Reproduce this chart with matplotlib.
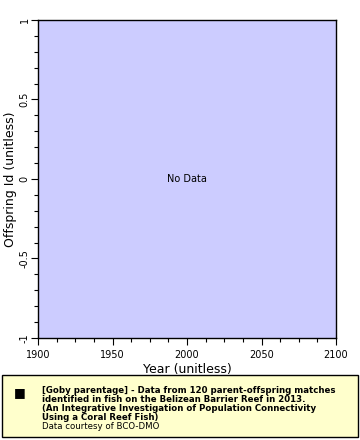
import numpy as np
import matplotlib.pyplot as plt
from matplotlib.patches import Rectangle
from matplotlib.ticker import MultipleLocator

# no data in this chart, only the empty axes
x_range = [1900, 2100]
y_range = [-1, 1]
x_ticks = [1900, 1950, 2000, 2050, 2100]
y_ticks = [-1, -0.5, 0, 0.5, 1]
y_tick_labels = ["-1", "-0.5", "0", "0.5", "1"]

legend_lines = [
    "[Goby parentage] - Data from 120 parent-offspring matches",
    "identified in fish on the Belizean Barrier Reef in 2013.",
    "(An Integrative Investigation of Population Connectivity",
    "Using a Coral Reef Fish)",
]
courtesy = "Data courtesy of BCO-DMO"

fig = plt.figure(figsize=(3.6, 4.4), dpi=100)
ax = fig.add_axes([38 / 360, 1 - 338 / 440, 298 / 360, 318 / 440])
ax.set_facecolor("#ccccff")
ax.set_xlim(x_range)
ax.set_ylim(y_range)
ax.set_xticks(x_ticks)
ax.set_yticks(y_ticks)
ax.set_yticklabels(y_tick_labels, rotation=90, va="center")
ax.xaxis.set_minor_locator(MultipleLocator(12.5))
ax.yaxis.set_minor_locator(MultipleLocator(0.1))
ax.tick_params(which="major", length=5, width=0.8, labelsize=7, direction="out")
ax.tick_params(which="minor", length=3, width=0.8, direction="out")
ax.tick_params(axis="y", pad=1)
for s in ax.spines.values():
    s.set_linewidth(1)
ax.set_xlabel("Year (unitless)", fontsize=9, labelpad=2)
ax.set_ylabel("Offspring Id (unitless)", fontsize=9, labelpad=2)
ax.text(0.5, 0.5, "No Data", transform=ax.transAxes, ha="center", va="center", fontsize=7)

# legend box at the bottom
box = Rectangle((2 / 360, 3 / 440), 356 / 360, 62 / 440, transform=fig.transFigure,
                facecolor="#ffffcc", edgecolor="black", linewidth=1)
fig.patches.append(box)
fig.text(20 / 360, 1 - 393 / 440, "\u25a0", fontsize=9, ha="center", va="center")
for i, line in enumerate(legend_lines):
    fig.text(42 / 360, 1 - (390 + 9 * i) / 440, line, fontsize=6.2, fontweight="bold",
             va="center", ha="left")
fig.text(42 / 360, 1 - 426 / 440, courtesy, fontsize=6.2, va="center", ha="left")

fig.savefig("out.png", dpi=100)
